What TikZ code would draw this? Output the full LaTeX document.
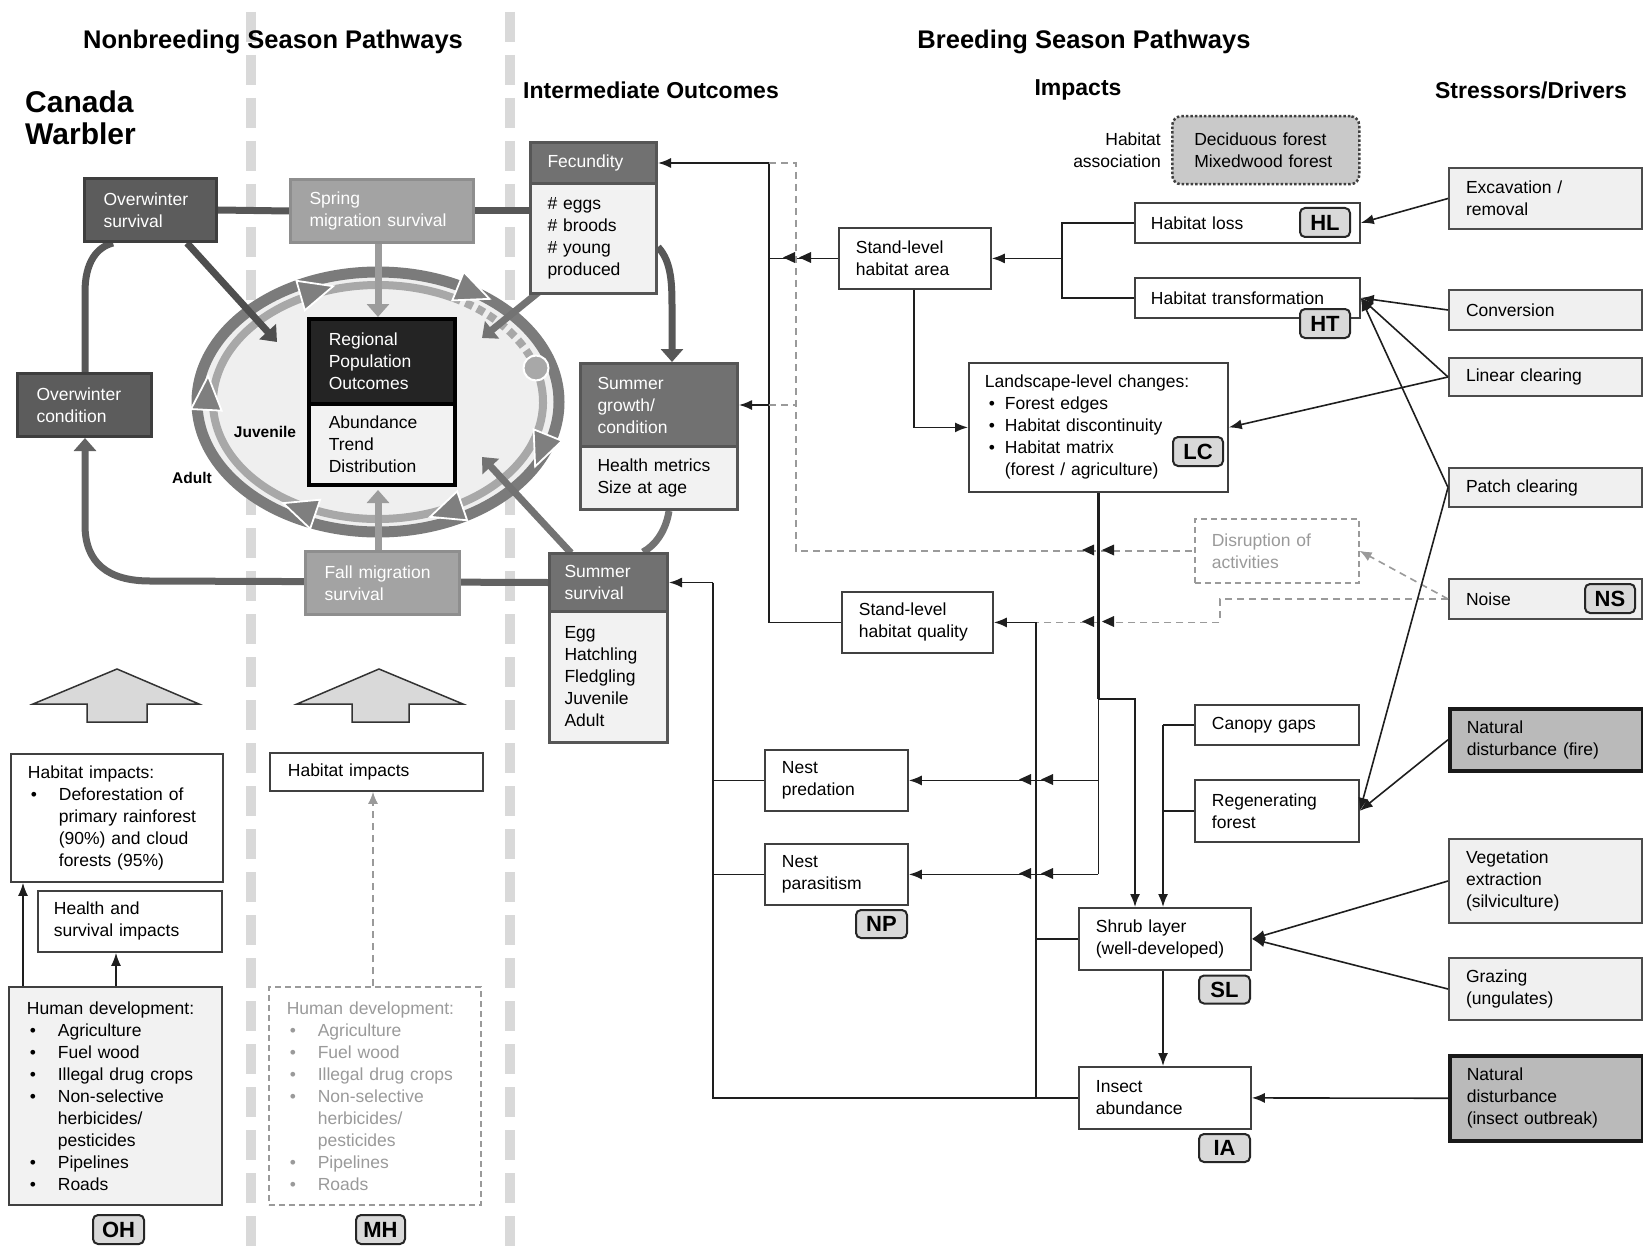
\documentclass[tikz,border=0pt]{standalone}
\usepackage{fontspec}
\setmainfont{Liberation Sans}
\usetikzlibrary{arrows.meta,calc}
\definecolor{sepc}{HTML}{D9D9D9}
\definecolor{dkf}{HTML}{5C5C5C}
\definecolor{dkb}{HTML}{3E3E3E}
\definecolor{mdf}{HTML}{A3A3A3}
\definecolor{mdb}{HTML}{8E8E8E}
\definecolor{hdf}{HTML}{717171}
\definecolor{hdb}{HTML}{565656}
\definecolor{bodyf}{HTML}{F2F2F2}
\definecolor{rpof}{HTML}{242424}
\definecolor{stf}{HTML}{F0F0F0}
\definecolor{natf}{HTML}{BABABA}
\definecolor{badgef}{HTML}{D9D9D9}
\definecolor{habf}{HTML}{C9C9C9}
\definecolor{ringo}{HTML}{7B7B7B}
\definecolor{ringi}{HTML}{A8A8A8}
\definecolor{ellf}{HTML}{EFEFEF}
\definecolor{trif}{HTML}{7F7F7F}
\definecolor{dgray}{HTML}{9A9A9A}
\definecolor{lnk}{HTML}{1E1E1E}
\definecolor{thkc}{HTML}{575757}
\definecolor{migc}{HTML}{9C9C9C}
\definecolor{diagc}{HTML}{737373}
\pgfdeclarelayer{seplayer}
\pgfdeclarelayer{bglayer}
\pgfsetlayers{seplayer,bglayer,main}
\def\BXpad{17}
\newcommand\BXn[7][]{%
  \pgfmathsetmacro\BXh{#6-#4}%
  \pgfmathsetmacro\BXt{#5-#3-2*\BXpad}%
  \node[anchor=north west, inner ysep=0pt, inner xsep=\BXpad pt, text width=\BXt pt, minimum height=\BXh pt, align=left, #1] (#2) at (#3,#4) {#7};}
\newcommand\ahL[1]{\fill[lnk] #1 -- ++(12,-5.5) -- ++(0,11) -- cycle;}
\newcommand\ahT[3]{\filldraw[fill=trif, draw=white, line width=1.8pt] ($(#1,#2)+(#3:21)$) -- ($(#1,#2)+(#3+130:20)$) -- ($(#1,#2)+(#3-130:20)$) -- cycle;}
\newcommand\bulx{\hspace*{3pt}\makebox[28pt][l]{\textbullet}}
\newcommand\indx{\hspace*{31pt}}
\newcommand\bulL{\hspace*{4pt}\makebox[16pt][l]{\textbullet}}
\newcommand\indL{\hspace*{20pt}}
\tikzset{
 fs/.style={font=\fontsize{17.5}{22}\selectfont},
 wbox/.style={fs, draw=lnk!85, line width=1.8pt, fill=white},
 sbox/.style={fs, draw=black!70, line width=2pt, fill=stf},
 nbox/.style={fs, draw=black!90, line width=3.5pt, fill=natf},
 dkbox/.style={fs, draw=dkb, line width=3pt, fill=dkf, text=white},
 mdbox/.style={fs, draw=mdb, line width=3pt, fill=mdf, text=white},
 hdbox/.style={fs, draw=hdb, line width=3pt, fill=hdf, text=white},
 bdbox/.style={fs, draw=hdb, line width=3pt, fill=bodyf},
 rpoh/.style={fs, draw=black, line width=3.5pt, fill=rpof, text=white},
 rpob/.style={fs, draw=black, line width=3.5pt, fill=bodyf},
 dbox/.style={fs, draw=dgray, line width=1.6pt, dash pattern=on 6pt off 4pt, text=dgray, fill=white},
 habox/.style={fs, draw=black!75, line width=2.5pt, dotted, fill=habf, rounded corners=9pt},
 badge/.style={draw=black!85, line width=2pt, fill=badgef, rounded corners=5pt, font=\fontsize{22}{24}\selectfont\bfseries, inner sep=0pt},
 lnkline/.style={line width=1.6pt, draw=lnk},
 conn/.style={lnkline, -{Latex[length=13pt,width=10pt]}},
 dashg/.style={line width=1.6pt, draw=dgray, dash pattern=on 7pt off 5pt},
 dashgarr/.style={dashg, -{Latex[length=12pt,width=10pt]}},
 sepline/.style={line width=10pt, draw=sepc, dash pattern=on 30pt off 13pt},
 thk/.style={line width=7pt, draw=thkc},
 tharr/.style={thk, -{Triangle[length=13pt,width=22pt]}},
 ttl/.style={font=\fontsize{25.5}{28}\selectfont\bfseries},
 colhead/.style={font=\fontsize{23}{26}\selectfont\bfseries},
 cwt/.style={font=\fontsize{30}{32}\selectfont\bfseries, align=left},
 lbl/.style={font=\fontsize{15.5}{18}\selectfont\bfseries},
}
\begin{document}
\begin{tikzpicture}[x=1pt,y=-1pt]
\useasboundingbox (0,0) rectangle (1643,1249);
% separators
\begin{pgfonlayer}{seplayer}
\draw[sepline] (251,12) -- (251,1249);
\draw[sepline] (510,12) -- (510,1249);
\end{pgfonlayer}
% titles
\node[ttl] (tNB) at (273,42) {Nonbreeding Season Pathways};
\node[ttl] (tB) at (1084,42) {Breeding Season Pathways};
\node[colhead] (tIO) at (651,90) {Intermediate Outcomes};
\node[colhead] (tIM) at (1078,90) {Impacts};
\node[colhead] (tSD) at (1531,90) {Stressors/Drivers};
\node[cwt, anchor=west, inner sep=0] (tCW) at (25,118) {Canada\\Warbler};
% named x coordinates
\coordinate (xA) at (769,0);
\coordinate (xD) at (796,0);
\coordinate (xS) at (713,0);
\coordinate (xQ) at (1036,0);
\coordinate (xB) at (1062,0);
\coordinate (xC) at (1163,0);
\coordinate (xN) at (1220,0);
\coordinate (xH) at (914,0);
\coordinate (x85) at (85,0);
\coordinate (x113) at (113,0);
\coordinate (x187) at (187,0);
\coordinate (x23) at (23,0);
\coordinate (x116) at (116,0);
\coordinate (x373) at (373,0);
\coordinate (x378) at (378,0);
\coordinate (jR) at (1135,699);
% ---- boxes of the cycle
\def\BXpad{19}
\BXn[dkbox]{OWS}{83}{177}{215}{240}{Overwinter\\survival}
\BXn[mdbox]{SMS}{289}{178}{472}{241}{Spring\\migration survival}
\BXn[dkbox]{OWC}{16}{372}{150}{435}{Overwinter\\condition}
\BXn[mdbox]{FMS}{304}{550}{458}{613}{Fall migration\\survival}
\def\BXpad{20}
\BXn[rpoh]{RPOh}{307}{317}{453}{402}{Regional\\Population\\Outcomes}
\BXn[rpob]{RPOb}{307}{402}{453}{483}{Abundance\\Trend\\Distribution}
\def\BXpad{17}
\BXn[hdbox]{FECh}{529}{141}{655}{182}{Fecundity}
\BXn[bdbox]{FECb}{529}{182}{655}{292}{\# eggs\\\# broods\\\# young\\produced}
\BXn[hdbox]{SGh}{579}{362}{736}{445}{Summer\\growth/\\condition}
\BXn[bdbox]{SGb}{579}{445}{736}{508}{Health metrics\\Size at age}
\def\BXpad{15}
\BXn[hdbox]{SSh}{548}{552}{666}{610}{Summer\\survival}
\BXn[bdbox]{SSb}{548}{610}{666}{741}{Egg\\Hatchling\\Fledgling\\Juvenile\\Adult}
% ---- thick grey connectors and the cycle (behind boxes)
\begin{pgfonlayer}{bglayer}
\draw[thk] (OWS.east) -- (SMS.west);
\draw[thk] (SMS.east) -- (SMS.east -| FECb.west);
\draw[thk] (OWC.north -| x85) -- (85,292) .. controls (85,262) and (97,247) .. (OWS.south -| x113);
\draw[thk, draw=diagc!85!black, -{Triangle[length=13pt,width=22pt]}] (SSh.west) -- (150,581) .. controls (108,581) and (85,563) .. (85,525) -- (OWC.south -| x85);
\draw[tharr] (FECb.east |- 0,247) .. controls (672,262) and (672,285) .. (672,310) -- (SGh.north -| 672,0);
\draw[thk, draw=diagc] (SGb.south -| 669,0) .. controls (666,530) and (656,545) .. (SSh.north -| 643,0);
% ellipse
\coordinate (EC) at (378,402);
\fill[ellf] (EC) ellipse [x radius=186, y radius=135];
\draw[ringo, line width=11pt] (EC) ellipse [x radius=181, y radius=130];
\draw[ringi, line width=8pt] ($(EC)+({165*cos(-11)},{117*sin(-11)})$) arc[start angle=-11, end angle=300, x radius=165, y radius=117];
\draw[ringi, line width=8pt, dash pattern=on 8pt off 5pt] ($(EC)+({165*cos(-58)},{117*sin(-58)})$) arc[start angle=-58, end angle=-23, x radius=165, y radius=117];
\node[circle, fill=ringi, draw=white, line width=2pt, minimum size=25pt, inner sep=0pt] (RC) at (536,368) {};
\ahT{313}{292}{-16}
\ahT{470}{291}{22}
\ahT{543}{447}{112}
\ahT{450}{510}{161}
\ahT{303}{510}{199}
\ahT{207}{397}{-87}
% arrows into the cycle
\draw[thk, draw=thkc!90!black, -{Triangle[length=14pt,width=22pt]}] (OWS.south -| x187) -- (277,342);
\draw[thk, draw=migc, -{Triangle[length=13pt,width=22pt]}] (SMS.south -| x378) -- (RPOh.north -| x378);
\draw[thk, draw=migc, -{Triangle[length=13pt,width=22pt]}] (FMS.north -| x378) -- (378,490);
\draw[thk, draw=diagc, -{Triangle[length=13pt,width=22pt]}] (540,291) -- (482,338);
\draw[thk, draw=diagc, -{Triangle[length=13pt,width=22pt]}] (571,553) -- (482,457);
\end{pgfonlayer}
\node[lbl] (lJuv) at (265,432) {Juvenile};
\node[lbl] (lAd) at (192,478) {Adult};
% ---- right part boxes
\def\BXpad{17}
\BXn[wbox]{SHA}{838}{227}{990}{288}{Stand-level\\habitat area}
\BXn[wbox]{SHQ}{841}{591}{992}{652}{Stand-level\\habitat quality}
\def\BXpad{16}
\BXn[wbox]{LC}{968}{362}{1227}{491}{Landscape-level changes:\\\bulL Forest edges\\\bulL Habitat discontinuity\\\bulL Habitat matrix\\\indL(forest / agriculture)}
\BXn[wbox]{HL}{1134}{202}{1359}{242}{Habitat loss}
\BXn[wbox]{HT}{1134}{277}{1359}{317}{Habitat transformation}
\def\BXpad{22}
\BXn[habox]{HAB}{1171}{115}{1358}{183}{Deciduous forest\\Mixedwood forest}
\node[fs, align=right, anchor=east, inner sep=0pt] (HAt) at (1161,150.5) {Habitat\\association};
\def\BXpad{17}
\BXn[dbox]{DIS}{1194}{518}{1358}{582}{Disruption of\\activities}
\BXn[wbox]{CG}{1194}{704}{1358}{744}{Canopy gaps}
\BXn[wbox]{RF}{1194}{779}{1358}{841}{Regenerating\\forest}
\BXn[wbox]{NP}{764}{749}{907}{810}{Nest\\predation}
\BXn[wbox]{NPa}{764}{843}{907}{904}{Nest\\parasitism}
\BXn[wbox]{SL}{1078}{907}{1250}{969}{Shrub layer\\(well-developed)}
\BXn[wbox]{IA}{1078}{1066}{1250}{1128}{Insect\\abundance}
% stressors
\BXn[sbox]{EXC}{1448}{167}{1641}{228}{Excavation /\\removal}
\BXn[sbox]{CON}{1448}{289}{1641}{329}{Conversion}
\BXn[sbox]{LIN}{1448}{357}{1641}{395}{Linear clearing}
\BXn[sbox]{PAT}{1448}{467}{1641}{506}{Patch clearing}
\BXn[sbox]{NOI}{1448}{578}{1641}{618}{Noise}
\BXn[nbox]{FIRE}{1448}{707}{1641}{769}{Natural\\disturbance (fire)}
\BXn[sbox]{VEG}{1448}{838}{1641}{922}{Vegetation\\extraction\\(silviculture)}
\BXn[sbox]{GRZ}{1448}{957}{1641}{1019}{Grazing\\(ungulates)}
\BXn[nbox]{INS}{1448}{1054}{1641}{1139}{Natural\\disturbance\\(insect outbreak)}
% left bottom
\BXn[wbox]{HIL}{10}{753}{222}{881}{Habitat impacts:\\\bulx Deforestation of\\\indx primary rainforest\\\indx (90\%) and cloud\\\indx forests (95\%)}
\def\BXpad{16}
\BXn[wbox]{HSI}{37}{890}{221}{951}{Health and\\survival impacts}
\def\BXpad{18}
\BXn[wbox, fill=bodyf]{HDL}{8}{986}{221}{1204}{Human development:\\\bulx Agriculture\\\bulx Fuel wood\\\bulx Illegal drug crops\\\bulx Non-selective\\\indx herbicides/\\\indx pesticides\\\bulx Pipelines\\\bulx Roads}
\BXn[wbox]{HIR}{269}{752}{482}{790}{Habitat impacts}
\BXn[dbox]{HDR}{268}{986}{480}{1204}{Human development:\\\bulx Agriculture\\\bulx Fuel wood\\\bulx Illegal drug crops\\\bulx Non-selective\\\indx herbicides/\\\indx pesticides\\\bulx Pipelines\\\bulx Roads}
% block arrows
\filldraw[fill=badgef, draw=black!80, line width=1.5pt] (117,669) -- (199,704) -- (147,704) -- (147,722) -- (87,722) -- (87,704) -- (33,704) -- cycle;
\filldraw[fill=badgef, draw=black!80, line width=1.5pt] (379,669) -- (463,704) -- (409,704) -- (409,722) -- (352,722) -- (352,704) -- (297,704) -- cycle;
% badges
\node[badge, minimum width=50pt, minimum height=29pt] (bHL) at (1325,222.5) {HL};
\node[badge, minimum width=50pt, minimum height=29pt] (bHT) at (1325,323.5) {HT};
\node[badge, minimum width=50pt, minimum height=29pt] (bLC) at (1198,451.5) {LC};
\node[badge, minimum width=50pt, minimum height=29pt] (bNS) at (1610,598.5) {NS};
\node[badge, minimum width=51pt, minimum height=28pt] (bNP) at (881.5,924) {NP};
\node[badge, minimum width=51pt, minimum height=28pt] (bSL) at (1224.5,989.5) {SL};
\node[badge, minimum width=51pt, minimum height=28pt] (bIA) at (1224.5,1148) {IA};
\node[badge, minimum width=51pt, minimum height=29pt] (bOH) at (118.5,1229.5) {OH};
\node[badge, minimum width=49pt, minimum height=29pt] (bMH) at (380.5,1229.5) {MH};
% ---- thin connectors
\draw[conn] (FECh.east -| xA) -- (FECh.east);
\draw[lnkline] (FECh.east -| xA) -- (SHQ.west -| xA) -- (SHQ.west);
\draw[conn] (SGh.east -| xA) -- (SGh.east);
\draw[lnkline] (SHA.west) -- (SHA.west -| xA);
\ahL{(783,257.5)}
\ahL{(799,257.5)}
\draw[dashg] (FECh.east -| xA) -- (FECh.east -| xD) -- (DIS.west -| xD) -- (DIS.west);
\draw[dashg] (SGh.east -| xA) -- (SGh.east -| xD);
\draw[dashg] (NOI.west) -- (NOI.west -| xN) -- (SHQ.east -| xN) -- (SHQ.east -| xQ);
\draw[dashgarr] (NOI.west) -- (DIS.east);
\draw[conn] (SSh.east -| xS) -- (SSh.east);
\draw[lnkline] (SSh.east -| xS) -- (IA.west -| xS) -- (IA.west);
\draw[lnkline] (NP.west) -- (NP.west -| xS);
\draw[lnkline] (NPa.west) -- (NPa.west -| xS);
\draw[lnkline] (SHQ.east -| xQ) -- (IA.west -| xQ);
\draw[conn] (SHQ.east -| xQ) -- (SHQ.east);
\draw[lnkline] (SL.west) -- (SL.west -| xQ);
\draw[lnkline, line width=3pt] (LC.south) -- (LC.south |- jR);
\draw[lnkline] (LC.south |- jR) -- (LC.south |- NPa.east);
\draw[conn] (LC.south |- jR) -- (jR) -- (jR |- SL.north);
\draw[conn] (LC.south |- NP.east) -- (NP.east);
\draw[conn] (LC.south |- NPa.east) -- (NPa.east);
\ahL{(1082,550)}
\ahL{(1102,550)}
\ahL{(1082,621.5)}
\ahL{(1102,621.5)}
\ahL{(1019,779.5)}
\ahL{(1041,779.5)}
\ahL{(1019,873.5)}
\ahL{(1041,873.5)}
\draw[lnkline] (CG.west) -- (CG.west -| xC);
\draw[conn] (CG.west -| xC) -- (SL.north -| xC);
\draw[lnkline] (RF.west) -- (RF.west -| xC);
\draw[conn] (SL.south -| xC) -- (IA.north -| xC);
\draw[lnkline] (HL.west) -- (HL.west -| xB) -- (HT.west -| xB) -- (HT.west);
\draw[conn] (SHA.east -| xB) -- (SHA.east);
\draw[conn] (SHA.south -| xH) -- (LC.west -| xH) -- (LC.west);
\draw[conn] (EXC.west) -- (HL.east);
\draw[conn] (CON.west) -- (HT.east);
\draw[conn] (LIN.west) -- (HT.east);
\draw[conn] (PAT.west) -- (HT.east);
\draw[conn] (LIN.west) -- (LC.east);
\draw[conn] (PAT.west) -- (RF.east);
\draw[conn] (FIRE.west) -- (RF.east);
\draw[conn] (VEG.west) -- (SL.east);
\draw[conn] (GRZ.west) -- (SL.east);
\draw[conn] (INS.west) -- (IA.east);
\draw[conn] (HDL.north -| x23) -- (HIL.south -| x23);
\draw[conn] (HDL.north -| x116) -- (HSI.south -| x116);
\draw[dashgarr] (HDR.north -| x373) -- (HIR.south -| x373);
\end{tikzpicture}
\end{document}
